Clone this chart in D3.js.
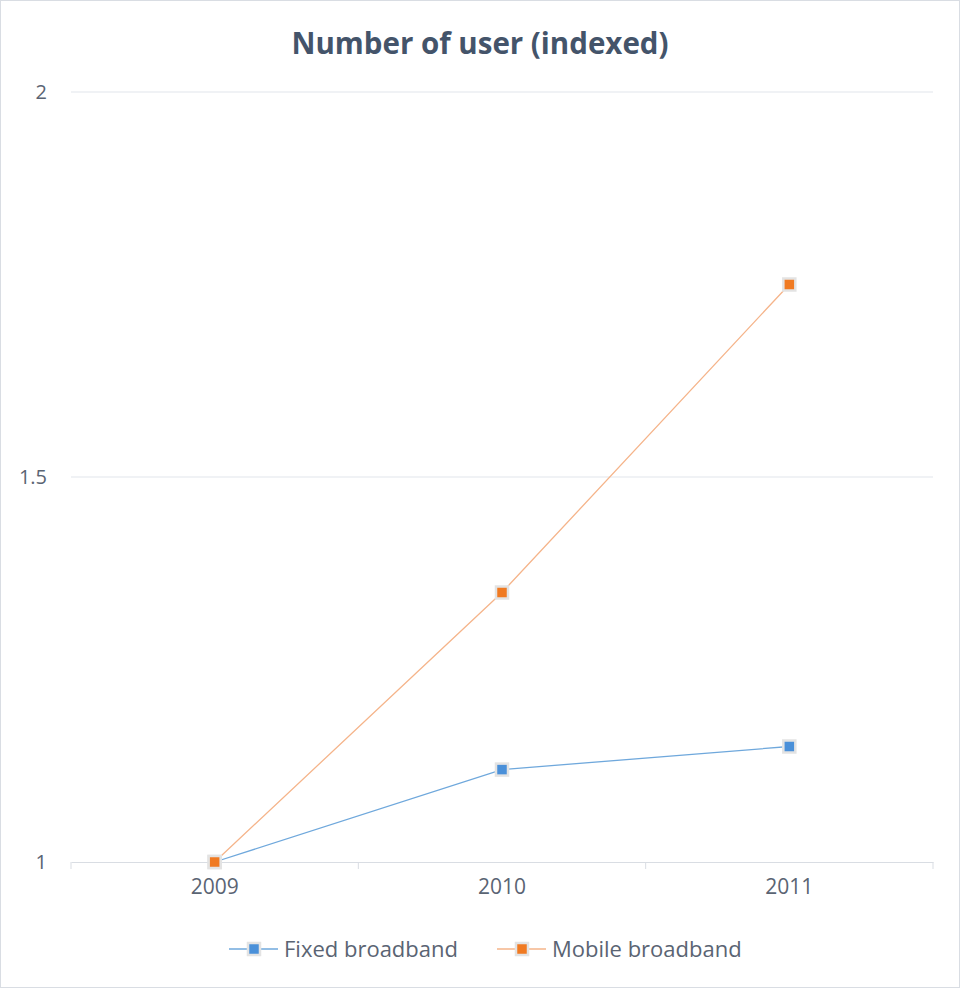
<!DOCTYPE html>
<html><head><meta charset="utf-8">
<script src="https://cdn.jsdelivr.net/npm/d3@7"></script>
<style>body{margin:0;background:#fff;font-family:"Open Sans","Noto Sans",sans-serif;}</style>
</head><body>
<svg id="c" width="963" height="989"></svg>
<script>
const title = "Number of user (indexed)";
const categories = ["2009","2010","2011"];
const fixedBroadband = [1.0, 1.12, 1.15];
const mobileBroadband = [1.0, 1.35, 1.75];
const yTicks = [1, 1.5, 2];
const seriesNames = ["Fixed broadband","Mobile broadband"];

const svg = d3.select("#c");
const W=963,H=989;
const m={l:71,r:30,t:92,b:127};
svg.append("rect").attr("x",0.5).attr("y",0.5).attr("width",959).attr("height",987)
  .attr("fill","#fff").attr("stroke","#d9dde3");

const x = d3.scaleBand().domain(categories).range([m.l,W-m.r]);
const y = d3.scaleLinear().domain([1,2]).range([H-m.b,m.t]);

const textCol="#5a6473";
// grid
svg.append("g").selectAll("line").data(yTicks.filter(d=>d!==1)).join("line")
  .attr("x1",m.l).attr("x2",W-m.r).attr("y1",d=>y(d)).attr("y2",d=>y(d))
  .attr("stroke","#e1e5eb").attr("stroke-width",1);
// y labels
svg.append("g").selectAll("text").data(yTicks).join("text")
  .attr("x",47).attr("y",d=>y(d)).attr("dy","0.35em").attr("text-anchor","end")
  .attr("fill",textCol).attr("font-size",20).text(d=>d);
// x axis
const xa = svg.append("g").attr("transform",`translate(0,${y(1)})`)
  .call(d3.axisBottom(x).tickSize(0).tickPadding(0));
xa.select(".domain").attr("stroke","#d9dde3");
xa.selectAll(".tick text").attr("fill",textCol).attr("font-size",21)
  .attr("font-family","Open Sans").attr("dy","1.5em");
// category boundary ticks
const bounds = categories.map(c=>x(c)).concat([x.range()[1]]);
svg.append("g").selectAll("line").data(bounds).join("line")
  .attr("x1",d=>d).attr("x2",d=>d).attr("y1",y(1)).attr("y2",y(1)+7)
  .attr("stroke","#d9dde3");

const cx = c=>x(c)+x.bandwidth()/2;
const series=[
  {name:seriesNames[0],vals:fixedBroadband,line:"#6fa8dc",mark:"#4a90d9"},
  {name:seriesNames[1],vals:mobileBroadband,line:"#f5b48a",mark:"#f07a22"}
];
const line = d3.line().x((d,i)=>cx(categories[i])).y(d=>y(d));
series.forEach(s=>{
  svg.append("path").datum(s.vals).attr("d",line).attr("fill","none")
    .attr("stroke",s.line).attr("stroke-width",1.3);
});
series.forEach(s=>{
  svg.append("g").selectAll("rect").data(s.vals).join("rect")
    .attr("x",(d,i)=>cx(categories[i])-6).attr("y",d=>y(d)-6)
    .attr("width",12).attr("height",12).attr("fill",s.mark)
    .attr("stroke","#e3e3e3").attr("stroke-width",2.5);
});
// title
svg.append("text").attr("x",480).attr("y",54).attr("text-anchor","middle")
  .attr("font-size",29.5).attr("font-weight","bold").attr("fill","#44546a").text(title);
// legend
const lg=[{x0:229,s:series[0]},{x0:497,s:series[1]}];
lg.forEach(l=>{
  const g=svg.append("g").attr("transform",`translate(${l.x0},949)`);
  g.append("line").attr("x1",0).attr("x2",49).attr("stroke",l.s.line).attr("stroke-width",1.3);
  g.append("rect").attr("x",19).attr("y",-6).attr("width",12).attr("height",12)
    .attr("fill",l.s.mark).attr("stroke","#e3e3e3").attr("stroke-width",2.5);
  g.append("text").attr("x",55).attr("dy","0.35em").attr("font-size",22)
    .attr("fill",textCol).text(l.s.name);
});
</script>
</body></html>
